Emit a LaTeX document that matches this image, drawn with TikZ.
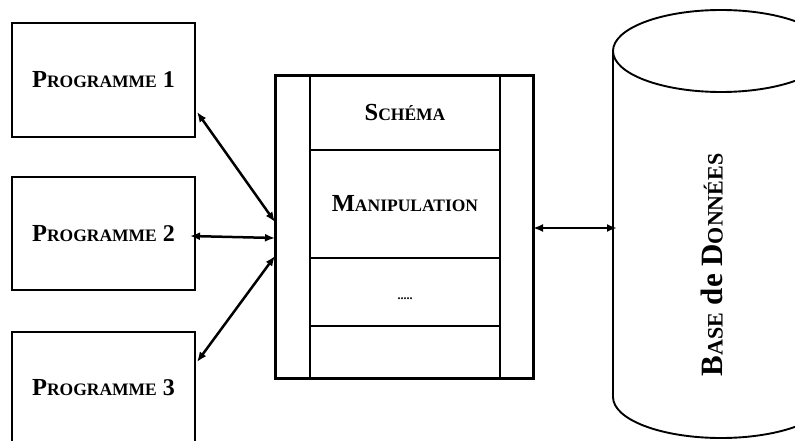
\documentclass[tikz,border=0pt]{standalone}
\usepackage{fontspec}
\setmainfont{Liberation Serif}
\usetikzlibrary{arrows.meta}
\newcommand{\fakesc}[2]{{\fontsize{24.5}{24}\selectfont #1}{\fontsize{17.5}{17}\selectfont #2}}
\newcommand{\bigsc}[2]{{\fontsize{31}{31}\selectfont #1}{\fontsize{22}{22}\selectfont #2}}
\begin{document}
\begin{tikzpicture}[x=1pt,y=-1pt,
  progbox/.style={draw,line width=2.6pt,inner sep=0pt,outer sep=0pt,minimum width=183pt,font=\bfseries\fontsize{24}{24}\selectfont},
  outerbox/.style={draw,line width=3pt,inner sep=0pt,outer sep=0pt,minimum width=258pt,minimum height=302pt},
  cell/.style={draw,line width=2.2pt,inner sep=0pt,outer sep=0pt,minimum width=190pt,font=\bfseries\fontsize{24}{24}\selectfont},
  conn/.style={{Latex[length=10pt,width=8pt]}-{Latex[length=10pt,width=8pt]},line width=2.5pt},
  cyl/.style={line width=1.9pt}]
\useasboundingbox (0,0) rectangle (795,441);
\clip (0,0) rectangle (795,441);
% left programmes
\node[progbox,minimum height=114pt] (p1) at (103.5,80) {\fakesc{P}{ROGRAMME} 1};
\node[progbox,minimum height=113pt] (p2) at (103.5,233.5) {\fakesc{P}{ROGRAMME} 2};
\node[progbox,minimum height=113pt] (p3) at (103.5,388.5) {\raisebox{3pt}{\fakesc{P}{ROGRAMME} 3}};
% middle block
\node[outerbox] (mid) at (404,227) {};
\node[cell,minimum height=74pt] (schema) at (405,113) {\fakesc{S}{CHÉMA}};
\node[cell,minimum height=108pt] (manip) at (405,204) {\fakesc{M}{ANIPULATION}};
\node[cell,minimum height=68pt] (dots) at (405,292) {\smash{\raisebox{-7pt}{\fontsize{12}{12}\selectfont\bfseries .....}}};
\node[cell,minimum height=52pt] (rest) at (405,352) {};
% database cylinder
\draw[cyl] (721,51) ellipse [x radius=108pt, y radius=41pt];
\draw[cyl] (613,51) -- (613,397) arc[start angle=180, end angle=360, x radius=108pt, y radius=41pt] -- (829,51);
\coordinate (dbl) at (617,228);
\node[rotate=90,font=\bfseries\fontsize{31}{31}\selectfont] (db) at (712,265) {\bigsc{B}{ASE} de \bigsc{D}{ONNÉES}};
% connectors
\draw[conn] ([yshift=-32pt,xshift=2pt]p1.east) -- ([yshift=5pt]mid.west);
\draw[conn] ([xshift=-5pt,yshift=-2.5pt]p2.east) -- ([yshift=-11pt]mid.west);
\draw[conn] ([yshift=26.5pt,xshift=2pt]p3.east) -- ([yshift=-29pt]mid.west);
\draw[conn] ([yshift=-1pt]mid.east) -- (dbl);
\end{tikzpicture}
\end{document}
